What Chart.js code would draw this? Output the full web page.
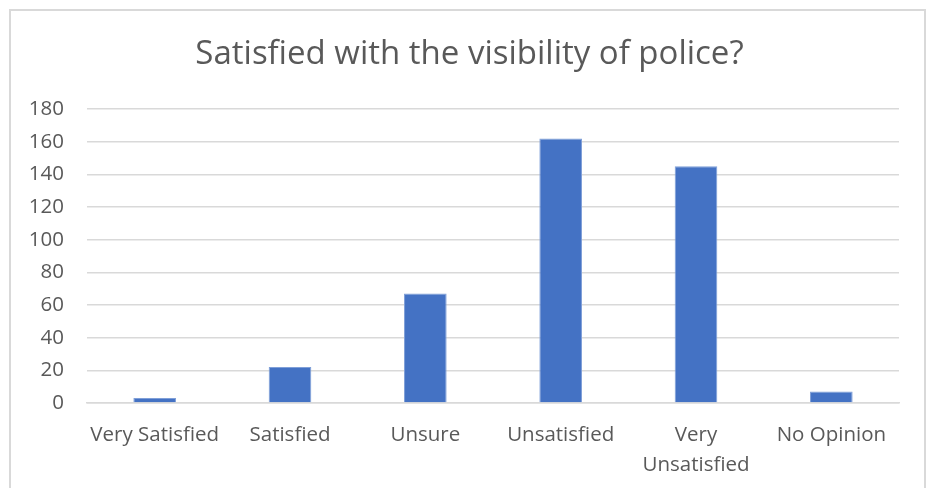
<!DOCTYPE html>
<html>
<head>
<meta charset="utf-8">
<script src="https://cdn.jsdelivr.net/npm/chart.js@4/dist/chart.umd.min.js"></script>
<style>
  html, body { margin: 0; padding: 0; background: #fff; }
  #wrap { position: relative; width: 929px; height: 488px; overflow: hidden; }
  #frame { position: absolute; left: 9px; top: 9px; width: 917px; height: 500px; border: 2px solid #d9d9d9; box-sizing: border-box; }
  canvas { position: absolute; left: 0; top: 0; }
</style>
</head>
<body>
<div id="wrap">
  <div id="frame"></div>
  <canvas id="chart" width="929" height="488"></canvas>
</div>
<script>
const categories = ["Very Satisfied", "Satisfied", "Unsure", "Unsatisfied", ["Very", "Unsatisfied"], "No Opinion"];
const responses = [3, 22, 67, 162, 145, 7];
const yTicks = [0, 20, 40, 60, 80, 100, 120, 140, 160, 180];

const FONT = "'Open Sans', 'Liberation Sans', sans-serif";

new Chart(document.getElementById("chart"), {
    type: "bar",
    data: {
        labels: categories,
        datasets: [{
            label: "Responses",
            data: responses,
            backgroundColor: "#4472c4",
            borderColor: "#7f9fd8",
            borderWidth: 1,
            barPercentage: 1,
            categoryPercentage: 0.315
        }]
    },
    options: {
        responsive: false,
        animation: false,
        // padding picked so the title sits centred on the frame
        layout: { padding: { left: 22, right: 12, top: 35, bottom: 0 } },
        plugins: {
            legend: { display: false },
            tooltip: { enabled: false },
            title: {
                display: true,
                text: "Satisfied with the visibility of police?",
                color: "#595959",
                font: { family: FONT, size: 33, weight: "normal", lineHeight: 1.2 },
                padding: { top: 0, bottom: 34.4 }
            }
        },
        scales: {
            x: {
                grid: { display: false },
                border: { color: "#d9d9d9", width: 1.5 },
                ticks: {
                    color: "#595959",
                    font: { family: FONT, size: 20.5, lineHeight: 1.42 },
                    padding: 10,
                    maxRotation: 0,
                    autoSkip: false
                },
                afterFit: s => { s.height = 85; }
            },
            y: {
                min: 0,
                max: 180,
                afterBuildTicks: s => { s.ticks = yTicks.map(v => ({ value: v })); },
                grid: { color: "#d9d9d9", lineWidth: 1.5, drawTicks: false },
                border: { display: false },
                ticks: {
                    color: "#595959",
                    font: { family: FONT, size: 20.5 },
                    padding: 23
                },
                afterFit: s => { s.width = 65; }
            },
            // empty spacer on the right so the plot ends where the reference does
            spacer: {
                type: "linear",
                position: "right",
                grid: { display: false },
                border: { display: false },
                ticks: { display: false },
                afterFit: s => { s.width = 18; }
            }
        }
    }
});
</script>
</body>
</html>
